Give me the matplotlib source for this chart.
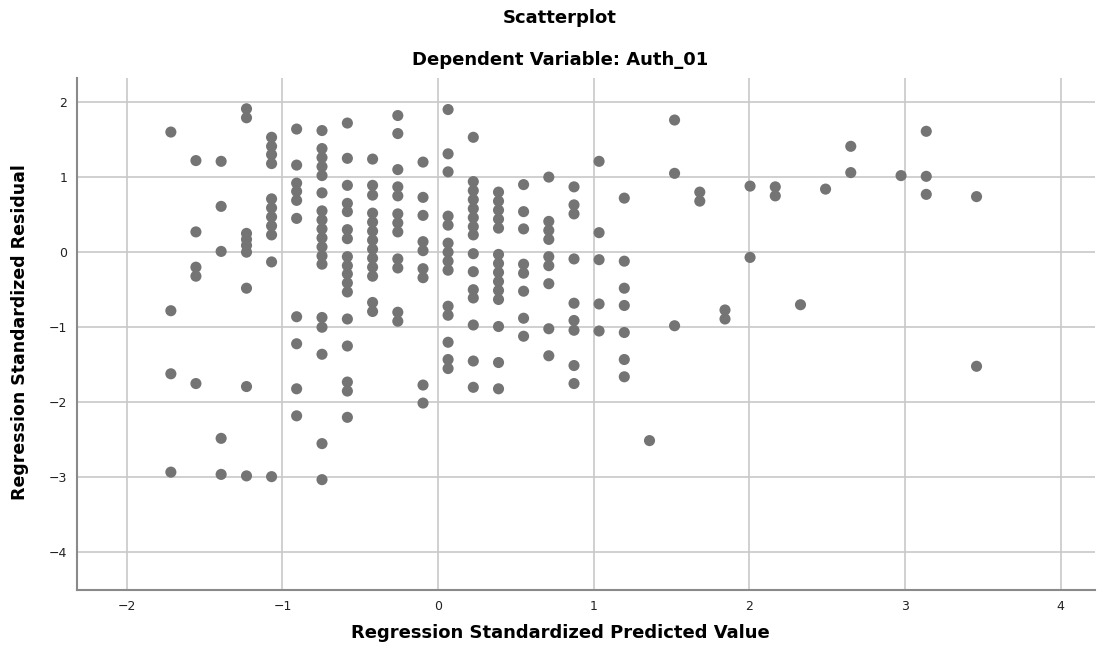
import matplotlib
matplotlib.use("Agg")
import matplotlib.pyplot as plt

# Predicted value (x) for each column of points
col_x = [-1.717, -1.556, -1.394, -1.231, -1.070, -0.909, -0.746, -0.583,
         -0.421, -0.259, -0.097, 0.064, 0.226, 0.388, 0.549, 0.711,
         0.873, 1.034, 1.196, 1.358, 1.519, 1.681, 1.843, 2.004,
         2.166, 2.328, 2.489, 2.651, 2.974, 3.136, 3.459]

# Standardized residuals in each column
col_resid = [
    [1.60, -0.78, -1.62, -2.93],
    [1.22, 0.27, -0.20, -0.32, -1.75],
    [1.21, 0.61, 0.01, -2.48, -2.96],
    [1.91, 1.79, 0.25, 0.17, 0.09, 0.0, -0.48, -1.79, -2.98],
    [1.53, 1.41, 1.30, 1.18, 0.71, 0.59, 0.47, 0.35, 0.23, -0.13, -2.99],
    [1.64, 1.16, 0.92, 0.81, 0.69, 0.45, -0.86, -1.22, -1.82, -2.18],
    [1.62, 1.38, 1.26, 1.14, 1.02, 0.79, 0.55, 0.43, 0.31, 0.19, 0.07,
     -0.05, -0.16, -0.87, -1.00, -1.36, -2.55, -3.03],
    [1.72, 1.25, 0.89, 0.65, 0.54, 0.30, 0.18, -0.06, -0.18, -0.29, -0.41,
     -0.53, -0.89, -1.25, -1.73, -1.85, -2.20],
    [1.24, 0.89, 0.76, 0.52, 0.40, 0.28, 0.16, 0.04, -0.08, -0.20, -0.32,
     -0.67, -0.79],
    [1.82, 1.58, 1.10, 0.87, 0.75, 0.51, 0.39, 0.27, -0.09, -0.21, -0.80, -0.92],
    [1.20, 0.73, 0.49, 0.14, 0.02, -0.22, -0.34, -1.77, -2.01],
    [1.90, 1.31, 1.07, 0.48, 0.36, 0.12, 0.0, -0.12, -0.24, -0.72, -0.84,
     -1.20, -1.43, -1.55],
    [1.53, 0.94, 0.82, 0.70, 0.58, 0.46, 0.34, 0.23, -0.02, -0.26, -0.50,
     -0.61, -0.97, -1.45, -1.80],
    [0.80, 0.68, 0.56, 0.44, 0.32, -0.03, -0.15, -0.27, -0.39, -0.51, -0.63,
     -0.99, -1.47, -1.82],
    [0.90, 0.54, 0.31, -0.16, -0.28, -0.52, -0.88, -1.12],
    [1.00, 0.41, 0.29, 0.17, -0.06, -0.18, -0.42, -1.02, -1.38],
    [0.87, 0.63, 0.51, -0.09, -0.68, -0.91, -1.04, -1.51, -1.75],
    [1.21, 0.26, -0.10, -0.69, -1.05],
    [0.72, -0.12, -0.48, -0.71, -1.07, -1.43, -1.66],
    [-2.51],
    [1.76, 1.05, -0.98],
    [0.80, 0.68],
    [-0.77, -0.89],
    [0.88, -0.07],
    [0.87, 0.75],
    [-0.70],
    [0.84],
    [1.41, 1.06],
    [1.02],
    [1.61, 1.01, 0.77],
    [0.74, -1.52],
]

x_ticks = [-2, -1, 0, 1, 2, 3, 4]
y_ticks = [-4, -3, -2, -1, 0, 1, 2]

title = "Scatterplot"
subtitle = "Dependent Variable: Auth_01"
x_label = "Regression Standardized Predicted Value"
y_label = "Regression Standardized Residual"

xs, ys = [], []
for cx, vals in zip(col_x, col_resid):
    for v in vals:
        xs.append(cx)
        ys.append(v)

W, H = 1120, 648
fig = plt.figure(figsize=(W / 100, H / 100), dpi=100)
ax = fig.add_axes([77 / W, 1 - 590 / H, (1095 - 77) / W, (590 - 78) / H])

ax.scatter(xs, ys, s=64, color="#747474", edgecolors="none", zorder=3)

ax.set_xlim(-2.32, 4.22)
ax.set_ylim(-4.5, 2.32)
ax.set_xticks(x_ticks)
ax.set_yticks(y_ticks)
ax.set_xticklabels([str(t).replace("-", "\u2212") for t in x_ticks])
ax.set_yticklabels([str(t).replace("-", "\u2212") for t in y_ticks])
ax.grid(True, color="#c8c8c8", linewidth=1.2, zorder=0)
ax.set_axisbelow(True)

for s in ["top", "right"]:
    ax.spines[s].set_visible(False)
for s in ["left", "bottom"]:
    ax.spines[s].set_color("#8a8a8a")
    ax.spines[s].set_linewidth(1.5)

ax.tick_params(axis="both", length=0, labelsize=9, labelcolor="#222222", pad=7)

fig.text(0.5, 1 - 633 / H, x_label, ha="center", va="center",
         fontsize=13, fontweight="bold")
fig.text(20 / W, 1 - 332 / H, y_label, ha="center", va="center",
         rotation=90, fontsize=12.5, fontweight="bold")

fig.text(0.5, 1 - 18 / H, title, ha="center", va="center",
         fontsize=13, fontweight="bold")
fig.text(0.5, 1 - 60 / H, subtitle, ha="center", va="center",
         fontsize=13, fontweight="bold")

fig.savefig("out.png", dpi=100, facecolor="white")
